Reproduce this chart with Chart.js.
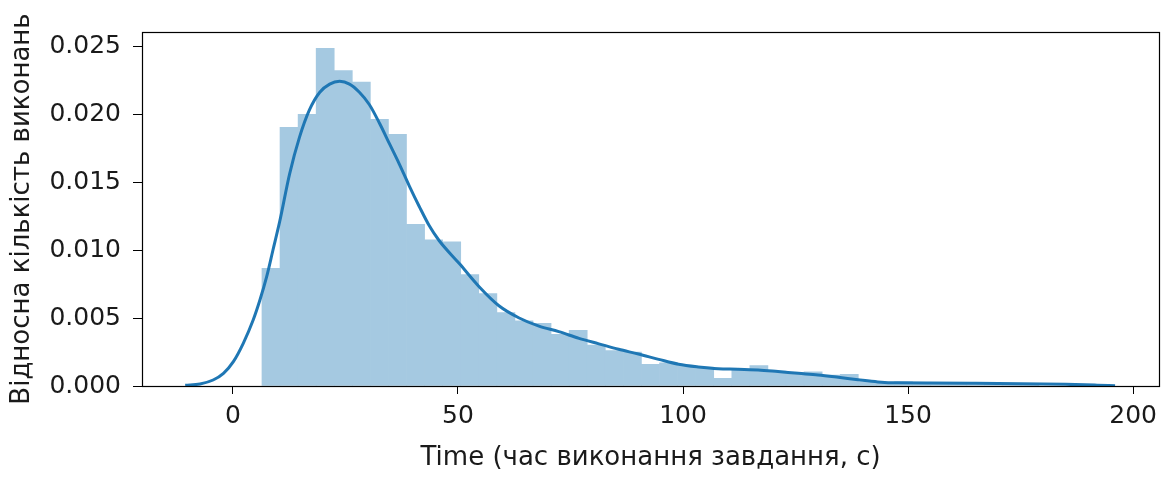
<!DOCTYPE html>
<html>
<head>
<meta charset="utf-8">
<script src="https://cdn.jsdelivr.net/npm/chart.js@4.4.0/dist/chart.umd.min.js"></script>
<style>
  html, body { margin: 0; padding: 0; background: #fff; }
</style>
</head>
<body>
<canvas id="dist-chart" width="1164" height="477"></canvas>
<script>
"use strict";

// Histogram bins (centre of each bin, seconds) and their density
const binCentres = [
  8.46, 12.47, 16.49, 20.50, 24.52, 28.53, 32.55, 36.56, 40.58, 44.59,
  48.61, 52.62, 56.64, 60.65, 64.67, 68.68, 72.70, 76.71, 80.73, 84.74,
  88.76, 92.77, 96.79, 100.80, 104.82, 108.83, 112.85, 116.86, 120.88, 124.89,
  128.91, 132.92, 136.94, 140.95, 144.97, 148.98, 153.00, 157.01, 161.03, 165.04,
  169.06, 173.07, 177.09
];
const binDensity = [
  0.00866, 0.01902, 0.01998, 0.02483, 0.02319, 0.02235, 0.01961, 0.01851, 0.01189, 0.01074,
  0.01061, 0.0082, 0.0068, 0.0054, 0.0048, 0.0046, 0.0038, 0.0041, 0.0030, 0.0026,
  0.0025, 0.0016, 0.0017, 0.0015, 0.0014, 0.00056, 0.0012, 0.0015, 0.0011, 0.0010,
  0.00105, 0.0008, 0.00086, 0.0003, 0.0002, 0.0003, 0.0002, 0.0002, 0.0002, 0.0001,
  0.0002, 0.0001, 0.0001
];

// KDE curve
const kdeX = [
  -10.6, -7.3, -4.4, -2.1, 0.1, 2.3, 4.5, 6.0, 7.5, 8.9,
  10.4, 12.6, 14.8, 17.0, 19.3, 21.5, 23.7, 25.9, 28.1, 30.3,
  32.6, 34.8, 37.0, 39.2, 41.4, 43.6, 45.8, 50.3, 54.7, 59.1,
  63.6, 68.0, 72.4, 76.9, 81.3, 85.7, 90.1, 94.6, 99.0, 103.4,
  107.8, 112.2, 116.7, 121.1, 125.6, 130.0, 134.5, 138.9, 143.3, 147.7,
  155, 165, 175, 185, 192, 196
];
const kdeY = [
  0.00005, 0.00015, 0.00044, 0.00093, 0.00179, 0.00314, 0.00485, 0.00632, 0.00804, 0.0100,
  0.0121, 0.0156, 0.0183, 0.0203, 0.0216, 0.0222, 0.0224, 0.0222, 0.0216, 0.0207,
  0.0193, 0.0178, 0.0163, 0.0147, 0.0132, 0.0118, 0.0107, 0.0090, 0.0073, 0.0059,
  0.0050, 0.0044, 0.0040, 0.0035, 0.0031, 0.0027, 0.00235, 0.00196, 0.0016, 0.0014,
  0.00127, 0.00124, 0.00118, 0.00106, 0.00093, 0.00081, 0.00064, 0.00046, 0.0003, 0.00023,
  0.00022, 0.0002, 0.00017, 0.00012, 0.00006, 0.00002
];

const xTicks = [0, 50, 100, 150, 200];
const yTicks = [0, 0.005, 0.010, 0.015, 0.020, 0.025];

const fontFamily = "'DejaVu Sans', sans-serif";
const textColor = "#1a1a1a";

// draw the box round the plot like matplotlib spines
const framePlugin = {
  id: "frame",
  afterDatasetsDraw(chart) {
    const { ctx, chartArea } = chart;
    ctx.save();
    ctx.strokeStyle = "#000";
    ctx.lineWidth = 1.2;
    ctx.strokeRect(
      Math.round(chartArea.left) + 0.5,
      Math.round(chartArea.top) + 0.5,
      Math.round(chartArea.right - chartArea.left),
      Math.round(chartArea.bottom - chartArea.top)
    );
    ctx.restore();
  },
};

const ctx = document.getElementById("dist-chart").getContext("2d");
const distChart = new Chart(ctx, {
  type: "bar",
  data: {
    datasets: [
      {
        type: "line",
        data: kdeX.map((x, i) => ({ x: x, y: kdeY[i] })),
        borderColor: "#1f77b4",
        borderWidth: 3,
        pointRadius: 0,
        cubicInterpolationMode: "monotone",
        fill: false,
        order: 0,
      },
      {
        type: "bar",
        data: binCentres.map((x, i) => ({ x: x, y: binDensity[i] })),
        // seaborn blue at alpha 0.4 on white, kept opaque so bars don't leave seams
        backgroundColor: "rgb(165, 201, 225)",
        borderWidth: 0,
        barPercentage: 1,
        categoryPercentage: 1,
        order: 1,
      },
    ],
  },
  options: {
    responsive: false,
    animation: false,
    layout: { padding: { top: 32, right: 2, left: 0, bottom: 0 } },
    plugins: {
      legend: { display: false },
      tooltip: { enabled: false },
    },
    scales: {
      x: {
        type: "linear",
        min: -20.2,
        max: 205.8,
        offset: false,
        afterBuildTicks(scale) {
          scale.ticks = xTicks.map((v) => ({ value: v }));
        },
        afterFit(scale) {
          scale.height = 91;
        },
        grid: {
          offset: false,
          drawOnChartArea: false,
          drawTicks: true,
          tickLength: 8,
          color: "#000",
        },
        border: { display: false },
        ticks: {
          color: textColor,
          padding: 7,
          maxRotation: 0,
          font: { family: fontFamily, size: 25 },
        },
        title: {
          display: true,
          text: "Time (час виконання завдання, с)",
          color: textColor,
          padding: { top: 0, bottom: 3 },
          font: { family: fontFamily, size: 26 },
        },
      },
      y: {
        min: 0,
        max: 0.02603,
        afterBuildTicks(scale) {
          scale.ticks = yTicks.map((v) => ({ value: v }));
        },
        afterFit(scale) {
          scale.width = 142;
        },
        grid: {
          drawOnChartArea: false,
          drawTicks: true,
          tickLength: 9,
          color: "#000",
        },
        border: { display: false },
        ticks: {
          color: textColor,
          padding: 12,
          font: { family: fontFamily, size: 25 },
          callback: (v) => Number(v).toFixed(3),
        },
        title: {
          display: true,
          text: "Відносна кількість виконань",
          color: textColor,
          padding: { top: 7, bottom: 0 },
          font: { family: fontFamily, size: 26 },
        },
      },
    },
  },
  plugins: [framePlugin],
});
</script>
</body>
</html>
